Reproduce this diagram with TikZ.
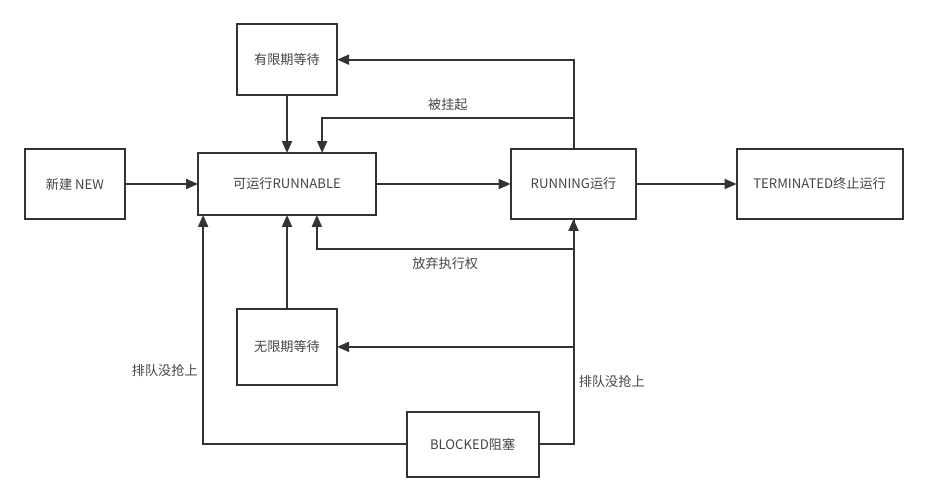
\documentclass[tikz,border=0pt]{standalone}
\usepackage{fontspec}
\setmainfont{Noto Sans CJK SC}
\usetikzlibrary{positioning,calc,arrows.meta}
\definecolor{linegray}{HTML}{333333}
\definecolor{textgray}{HTML}{444444}

\begin{document}
\begin{tikzpicture}[state/.style={rectangle,draw=linegray,line width=1.5pt,outer sep=0pt,inner sep=0pt,text=textgray,font=\fontsize{9.9}{12}\selectfont},
    arr/.style={draw=linegray,line width=1.5pt,-{Triangle[length=9pt,width=7.5pt]}},
    lbl/.style={text=textgray,font=\fontsize{9.9}{12}\selectfont}]
        \useasboundingbox (0,0) rectangle (24.553,-12.832);
        \node[state,minimum width=2.65cm,minimum height=1.85cm] (new) at (1.984,-4.868) {新建 NEW};
        \node[state,minimum width=4.71cm,minimum height=1.64cm] (run) [right=1.93cm of new] {可运行RUNNABLE};
        \node[state,minimum width=3.33cm,minimum height=1.85cm] (running) [right=3.56cm of run] {RUNNING运行};
        \node[state,minimum width=4.39cm,minimum height=1.85cm] (term) [right=2.65cm of running] {TERMINATED终止运行};
        \node[state,minimum width=2.65cm,minimum height=1.88cm] (timed) [above=1.53cm of run] {有限期等待};
        \node[state,minimum width=2.65cm,minimum height=2.0cm] (waiting) [below=2.49cm of run] {无限期等待};
        \node[state,minimum width=3.49cm,minimum height=1.72cm] (blocked) [below right=0.71cm and 1.84cm of waiting] {BLOCKED阻塞};

        \coordinate (q) at ($(run.south)+(-2.22,0)$);
        \coordinate (y) at ($(run.south)+(0.79,0)$);
        \coordinate (s) at ($(run.north)+(0.93,0)$);

        \draw[arr] (new)--(run);
        \draw[arr] (run)--(running);
        \draw[arr] (running)--(term);
        \draw[arr] (timed)--(run);
        \draw[arr] (waiting)--(run);
        \draw[arr] (running.north) |- (timed);
        \draw[arr] (running.north) |- ($(s)+(0,0.93)$) node[lbl,pos=0.75,above=1pt] {被挂起} -- (s);
        \draw[arr] (running.south) |- ($(y)+(0,-0.9)$) node[lbl,pos=0.75,below=2pt] {放弃执行权} -- (y);
        \draw[arr] (running.south) |- (waiting);
        \draw[arr] (blocked.east) -| node[lbl,pos=0.64,right] {排队没抢上} (running.south);
        \draw[arr] (blocked.west) -| node[lbl,pos=0.66,left] {排队没抢上} (q);
    \end{tikzpicture}
\end{document}
